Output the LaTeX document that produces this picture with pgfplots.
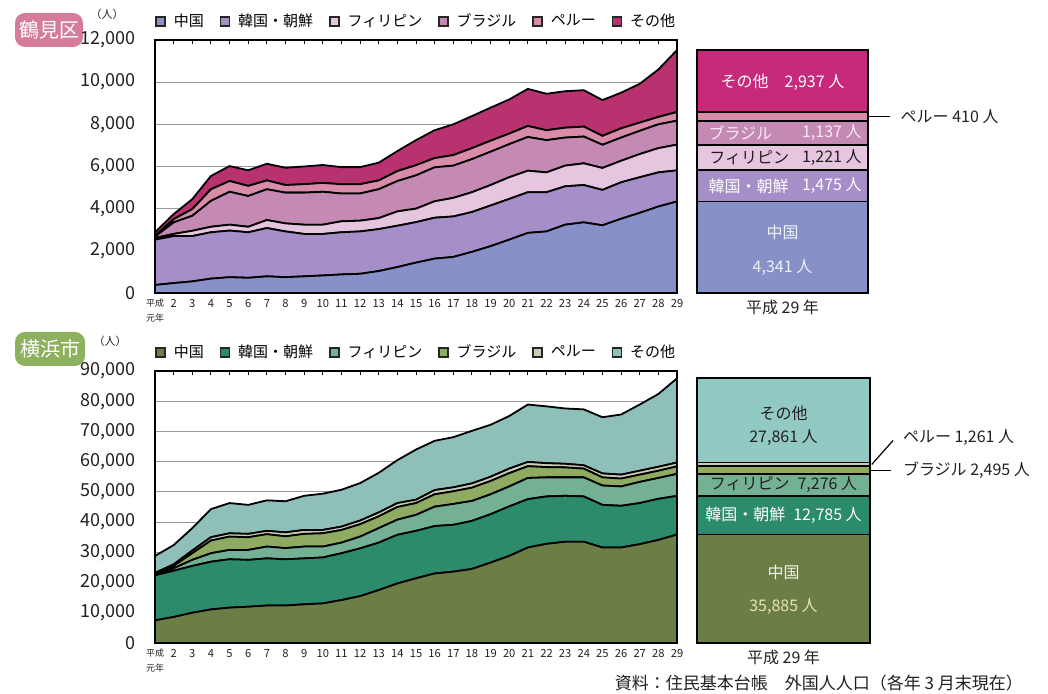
\documentclass[border=0pt]{standalone}
\usepackage{fontspec}
\setmainfont{Noto Sans CJK JP}
\usepackage{pgfplots}
\usepackage{pgfplotstable}
\pgfplotsset{compat=1.18}

\definecolor{tC}{HTML}{8891C7}
\definecolor{tK}{HTML}{A68FC8}
\definecolor{tP}{HTML}{E6C6DF}
\definecolor{tB}{HTML}{C58AB3}
\definecolor{tPe}{HTML}{D98CAA}
\definecolor{tO}{HTML}{B7326F}
\definecolor{tObar}{HTML}{C72A7B}
\definecolor{bC}{HTML}{6B7E45}
\definecolor{bK}{HTML}{2B8B6C}
\definecolor{bP}{HTML}{74B194}
\definecolor{bB}{HTML}{8FAB62}
\definecolor{bPe}{HTML}{CACDB3}
\definecolor{bO}{HTML}{8EBFB9}
\definecolor{bObar}{HTML}{93C9C3}
\definecolor{badgeT}{HTML}{D57C9B}
\definecolor{badgeY}{HTML}{8DB15F}
\definecolor{txt}{HTML}{231F20}
\definecolor{tBtxt}{HTML}{F6EAF2}
\definecolor{tCtxt}{HTML}{EEF0FA}
\definecolor{bCtxt}{HTML}{F2F2E6}
\definecolor{bCnum}{HTML}{E6E4B4}

\pgfplotstableread{
year C K P B Pe O
1 380 2150 80 60 40 170
2 470 2230 100 550 150 240
3 550 2150 250 710 320 470
4 680 2200 260 1230 550 630
5 750 2210 280 1560 510 710
6 720 2160 260 1460 480 740
7 790 2290 380 1460 420 790
8 750 2170 380 1460 360 820
9 790 2010 440 1520 400 840
10 830 1970 440 1560 420 850
11 880 2000 520 1320 440 810
12 910 2010 510 1290 440 810
13 1040 1990 520 1370 420 840
14 1230 1960 680 1440 470 950
15 1440 1920 640 1580 480 1190
16 1630 1940 780 1610 440 1320
17 1710 1920 880 1530 500 1460
18 1950 1890 940 1570 520 1520
19 2220 1930 970 1580 520 1570
20 2530 1930 1030 1570 500 1620
21 2850 1930 1020 1600 520 1760
22 2920 1860 940 1530 470 1730
23 3240 1820 980 1330 470 1730
24 3350 1770 1030 1270 470 1730
25 3210 1680 1040 1100 420 1700
26 3520 1730 1020 1100 440 1690
27 3800 1690 1100 1100 390 1840
28 4100 1620 1150 1130 350 2250
29 4341 1475 1221 1137 410 2937
}\tdata

\pgfplotstableread{
year C K P B Pe O
1 7500 14900 400 200 200 5600
2 8600 15300 800 800 500 6400
3 10000 15500 2000 2200 900 7400
4 11100 15800 2800 4200 1100 9300
5 11700 16000 3100 4400 1100 10000
6 12000 15500 3300 4200 1100 9600
7 12400 15600 3900 4100 1100 10100
8 12400 15300 3700 3900 1300 10300
9 12800 15200 3900 4200 1300 11300
10 13100 15200 3600 4400 1100 12000
11 14200 15500 3500 4200 1100 12200
12 15500 15800 3900 4100 1200 12400
13 17500 15700 4800 3900 1300 13100
14 19700 16100 5000 4200 1300 14200
15 21400 15700 5300 3900 1100 16600
16 23000 15700 6400 4100 1400 16300
17 23600 15500 6900 4200 1300 16600
18 24500 15900 6600 4400 1400 17400
19 26600 16000 6600 4400 1400 17200
20 28800 16400 6600 4400 1500 17400
21 31600 16000 7000 3900 1400 19000
22 32800 15700 6300 3400 1300 18800
23 33500 15200 6100 3300 1200 18300
24 33500 15000 6300 2900 1100 18500
25 31600 14100 6400 2700 1300 18600
26 31600 13800 6400 2600 1300 19900
27 32700 13600 7000 2400 1300 21900
28 34100 13600 6900 2400 1300 24100
29 35885 12785 7276 2495 1261 27861
}\bdata

\tikzset{lab/.style={font=\fontsize{8}{9}\selectfont}}

\pgfplotsset{
 areabase/.style={
   scale only axis, anchor=south west, width=261pt,
   xmin=1, xmax=29, ymin=0,
   xtick={1,...,29},
   xticklabels={{\fontsize{4.5}{5}\selectfont\shortstack{平成\\元年}},2,3,4,5,6,7,8,9,10,11,12,13,14,15,16,17,18,19,20,21,22,23,24,25,26,27,28,29},
   x tick label style={font=\fontsize{5.6}{6}\selectfont, inner sep=1.5pt, yshift=-1.5pt, text=txt},
   y tick label style={font=\fontsize{9}{10}\selectfont, xshift=-6pt, text=txt},
   /pgf/number format/assume math mode=true,
   /pgf/number format/1000 sep={,},
   scaled y ticks=false,
   ymajorgrids, grid style={gray!80, line width=0.5pt},
   axis line style={black, line width=0.7pt},
   tick align=inside, major tick length=2.2pt,
   ytick style={draw=none},
   xtick style={black, line width=0.5pt},
   stack plots=y,
   legend columns=6,
   legend style={at={(0,1)}, anchor=south west, draw=none, fill=none,
     font=\fontsize{7.5}{8}\selectfont, inner xsep=0pt, inner ysep=2pt, yshift=1pt,
     /tikz/every even column/.append style={column sep=6pt},
     /tikz/every odd column/.append style={column sep=2pt}},
   legend image code/.code={\draw[#1, draw=black!85, line width=0.8pt] (0pt,-2.2pt) rectangle (4.4pt,2.2pt);},
 },
 barbase/.style={
   scale only axis, anchor=south west, xmin=0, xmax=1, ymin=0,
   hide axis, ybar stacked, clip=false,
 },
 ar/.style={draw=black, line width=0.9pt},
}

\begin{document}
\begin{tikzpicture}
\useasboundingbox (0,0) rectangle (524pt,347pt);

% ---------------- 鶴見区 ----------------
\node[fill=badgeT, rounded corners=5pt, text=white, font=\fontsize{10}{11}\selectfont,
      minimum width=34pt, minimum height=17pt, inner sep=0pt] at (24.5pt,332pt) {鶴見区};
\node[font=\fontsize{5.5}{6}\selectfont, text=txt] at (53.5pt,340pt) {（人）};

\begin{axis}[areabase, at={(77.5pt,200.5pt)}, height=126.5pt, ymax=12000,
   ytick={0,2000,...,12000}]
\addplot[ar, fill=tC] table[x=year,y=C]{\tdata} \closedcycle;
\addlegendentry{中国\hspace{10pt}}
\addplot[ar, fill=tK] table[x=year,y=K]{\tdata} \closedcycle;
\addlegendentry{韓国・朝鮮}
\addplot[ar, fill=tP] table[x=year,y=P]{\tdata} \closedcycle;
\addlegendentry{フィリピン\hspace{-5pt}}
\addplot[ar, fill=tB] table[x=year,y=B]{\tdata} \closedcycle;
\addlegendentry{ブラジル\hspace{12pt}}
\addplot[ar, fill=tPe] table[x=year,y=Pe]{\tdata} \closedcycle;
\addlegendentry{ペルー}
\addplot[ar, fill=tO] table[x=year,y=O]{\tdata} \closedcycle;
\addlegendentry{その他}
\end{axis}

\begin{axis}[barbase, at={(348.5pt,200.5pt)}, width=85.5pt, height=126.5pt, ymax=12000, bar width=85.5pt]
\addplot[ar, fill=tC] coordinates {(0.5,4341)};
\addplot[ar, fill=tK] coordinates {(0.5,1475)};
\addplot[ar, fill=tP] coordinates {(0.5,1221)};
\addplot[ar, fill=tB] coordinates {(0.5,1137)};
\addplot[ar, fill=tPe] coordinates {(0.5,410)};
\addplot[ar, fill=tObar] coordinates {(0.5,2937)};
\coordinate (t1) at (axis cs:0.5,10010);
\coordinate (t2a) at (axis cs:1,8379);
\coordinate (t2b) at (axis cs:1.13,8379);
\coordinate (t2c) at (axis cs:1.15,8379);
\coordinate (t3a) at (axis cs:0.065,7605);
\coordinate (t3b) at (axis cs:0.965,7605);
\coordinate (t4a) at (axis cs:0.07,6426);
\coordinate (t4b) at (axis cs:0.965,6426);
\coordinate (t5a) at (axis cs:0.065,5078);
\coordinate (t5b) at (axis cs:0.965,5078);
\coordinate (t6a) at (axis cs:0.5,2890);
\coordinate (t6b) at (axis cs:0.5,1230);
\coordinate (t7) at (axis cs:0.5,0);
\end{axis}
\node[lab, text=white] at (t1) {その他\hspace{1em}2,937 人};
\draw[black, line width=0.6pt] (t2a) -- (t2b);
\node[lab, anchor=west, text=txt] at (t2c) {ペルー 410 人};
\node[lab, anchor=west, text=tBtxt, inner sep=0pt] at (t3a) {ブラジル};
\node[lab, anchor=east, text=tBtxt, inner sep=0pt] at (t3b) {1,137 人};
\node[lab, anchor=west, text=txt, inner sep=0pt] at (t4a) {フィリピン};
\node[lab, anchor=east, text=txt, inner sep=0pt] at (t4b) {1,221 人};
\node[lab, anchor=west, text=white, inner sep=0pt] at (t5a) {韓国・朝鮮};
\node[lab, anchor=east, text=white, inner sep=0pt] at (t5b) {1,475 人};
\node[lab, text=tCtxt] at (t6a) {中国};
\node[lab, text=tCtxt] at (t6b) {4,341 人};
\node[lab, anchor=north, text=txt] at (t7) {平成 29 年};

% ---------------- 横浜市 ----------------
\node[fill=badgeY, rounded corners=5pt, text=white, font=\fontsize{10}{11}\selectfont,
      minimum width=35pt, minimum height=17pt, inner sep=0pt] at (25pt,172.5pt) {横浜市};
\node[font=\fontsize{5.5}{6}\selectfont, text=txt] at (55pt,176.5pt) {（人）};

\begin{axis}[areabase, at={(77.5pt,25.5pt)}, height=136pt, ymax=90000,
   ytick={0,10000,...,90000}]
\addplot[ar, fill=bC] table[x=year,y=C]{\bdata} \closedcycle;
\addlegendentry{中国\hspace{10pt}}
\addplot[ar, fill=bK] table[x=year,y=K]{\bdata} \closedcycle;
\addlegendentry{韓国・朝鮮}
\addplot[ar, fill=bP] table[x=year,y=P]{\bdata} \closedcycle;
\addlegendentry{フィリピン}
\addplot[ar, fill=bB] table[x=year,y=B]{\bdata} \closedcycle;
\addlegendentry{ブラジル}
\addplot[ar, fill=bPe] table[x=year,y=Pe]{\bdata} \closedcycle;
\addlegendentry{ペルー}
\addplot[ar, fill=bO] table[x=year,y=O]{\bdata} \closedcycle;
\addlegendentry{その他}
\end{axis}

\begin{axis}[barbase, at={(348.5pt,25.5pt)}, width=86.5pt, height=136pt, ymax=90000, bar width=86.5pt]
\addplot[ar, fill=bC] coordinates {(0.5,35885)};
\addplot[ar, fill=bK] coordinates {(0.5,12785)};
\addplot[ar, fill=bP] coordinates {(0.5,7276)};
\addplot[ar, fill=bB] coordinates {(0.5,2495)};
\addplot[ar, fill=bPe] coordinates {(0.5,1261)};
\addplot[ar, fill=bObar] coordinates {(0.5,27861)};
\coordinate (b1a) at (axis cs:0.5,76100);
\coordinate (b1b) at (axis cs:0.5,67840);
\coordinate (b2a) at (axis cs:1.01,59070);
\coordinate (b2b) at (axis cs:1.133,67000);
\coordinate (b2c) at (axis cs:1.15,67840);
\coordinate (b3a) at (axis cs:1,57190);
\coordinate (b3b) at (axis cs:1.12,57190);
\coordinate (b3c) at (axis cs:1.15,57190);
\coordinate (b4) at (axis cs:0.5,52308);
\coordinate (b5) at (axis cs:0.5,42277);
\coordinate (b6a) at (axis cs:0.5,23500);
\coordinate (b6b) at (axis cs:0.5,11900);
\coordinate (b7) at (axis cs:0.5,0);
\end{axis}
\node[lab, text=txt] at (b1a) {その他};
\node[lab, text=txt] at (b1b) {27,861 人};
\draw[black, line width=0.6pt] (b2a) -- (b2b);
\node[lab, anchor=west, text=txt] at (b2c) {ペルー 1,261 人};
\draw[black, line width=0.6pt] (b3a) -- (b3b);
\node[lab, anchor=west, text=txt] at (b3c) {ブラジル 2,495 人};
\node[lab, text=txt] at (b4) {フィリピン\hspace{0.5em}7,276 人};
\node[lab, text=white] at (b5) {韓国・朝鮮\hspace{0.5em}12,785 人};
\node[lab, text=bCtxt] at (b6a) {中国};
\node[lab, text=bCnum] at (b6b) {35,885 人};
\node[lab, anchor=north, text=txt] at (b7) {平成 29 年};

\node[anchor=east, font=\fontsize{8.5}{9}\selectfont, text=txt] at (515pt,5.5pt) {資料：住民基本台帳\hspace{1em}外国人人口（各年 3 月末現在）};
\end{tikzpicture}
\end{document}
